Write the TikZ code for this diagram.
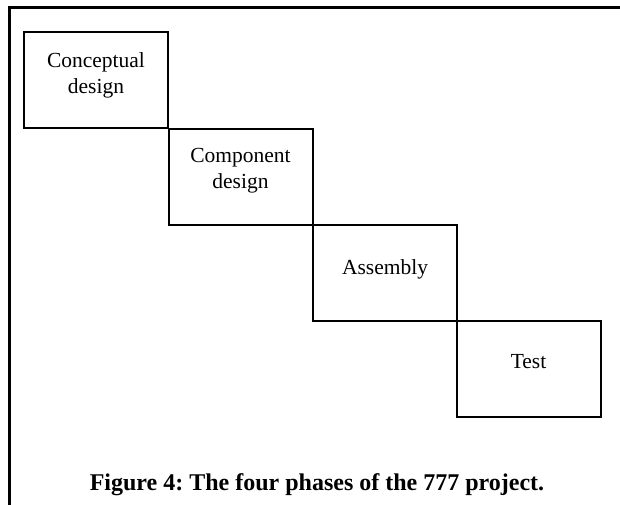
\documentclass[tikz,border=0pt]{standalone}
\usepackage{fontspec}
\setmainfont{Liberation Serif}
\usepackage{tikz}
\frenchspacing

\begin{document}
\begin{tikzpicture}[x=1pt, y=-1pt, line width=2pt,
    phase/.style={draw, rectangle, minimum width=144pt, minimum height=96pt, inner sep=0pt},
    phasetext/.style={align=center, font=\fontsize{21.5}{26}\selectfont}]
  \useasboundingbox (0,0) rectangle (620,504);
  \draw[line width=3pt] (9,520) -- (9,7.5) -- (630,7.5);

  \node [phase] (concept) at ( 96, 80) {};
  \node [phase] (comp) at ( 240.5, 177) {};
  \node [phase] (assem) at ( 385, 272.5) {};
  \node [phase] (test) at ( 528.5, 369) {};

  \node [phasetext] at ([yshift=5pt]concept.center) {Conceptual\\design};
  \node [phasetext] at ([yshift=6pt]comp.center) {Component\\design};
  \node [phasetext] at ([yshift=3pt]assem.center) {Assembly};
  \node [phasetext] at ([yshift=7pt]test.center) {Test};

  \node [font=\fontsize{24}{28}\selectfont\bfseries] (caption) at ( 317, 485) {Figure 4: The four phases of the 777 project.};

  \end{tikzpicture}
\end{document}
